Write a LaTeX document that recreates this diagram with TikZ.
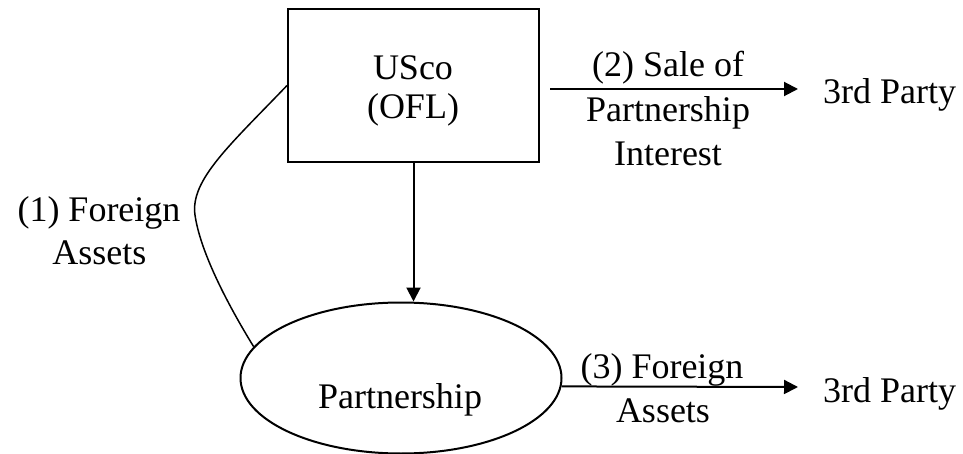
\documentclass[tikz,border=0pt]{standalone}
\usepackage{fontspec}
\setmainfont{Liberation Serif}
\usetikzlibrary{arrows.meta,shapes.geometric}
\begin{document}
\begin{tikzpicture}[x=1pt,y=-1pt,
  txt/.style={font=\fontsize{36}{44}\selectfont, inner sep=0pt, anchor=base},
  txtw/.style={txt, anchor=base west},
  arr/.style={line width=2pt, -{Triangle[length=14pt,width=14pt]}},
  shapebox/.style={draw, line width=2pt, rectangle, minimum width=251pt, minimum height=153pt, inner sep=0pt},
  shapeell/.style={draw, line width=2pt, ellipse, minimum width=321pt, minimum height=151pt, inner sep=0pt}]
\useasboundingbox (0,0) rectangle (963,454);
% nodes
\node[shapebox] (usco) at (413.5,85.5) {};
\node[txt] (u1) at (413,80) {USco};
\node[txt] (u2) at (413,118.5) {(OFL)};
\node[shapeell] (part) at (401,378) {};
\node[txt] (ptxt) at (400,408) {Partnership};
\node[txtw] (tp1) at (823,104) {3rd Party};
\node[txtw] (tp2) at (823,402) {3rd Party};
% labels
\node[txt] (l2a) at (668,77) {(2) Sale of};
\node[txt] (l2b) at (668,122) {Partnership};
\node[txt] (l2c) at (668,166) {Interest};
\node[txt] (l3a) at (662,378) {(3) Foreign};
\node[txt] (l3b) at (663,422) {Assets};
\node[txt] (l1a) at (99,222) {(1) Foreign};
\node[txt] (l1b) at (99.5,265) {Assets};
% connectors
\coordinate (s2) at (550,89);
\coordinate (e2) at (798,89);
\coordinate (e3) at (798,387);
\draw[arr] (usco.south) -- (usco.south |- part.north);
\draw[arr] (s2) -- (e2);
\draw[arr] (part.-3.3) -- (e3);
\draw[line width=1.5pt] (usco.west) .. controls (230,145) and (190,180) .. (195,215)
  .. controls (200,250) and (225,300) .. (part.168);
\end{tikzpicture}
\end{document}
